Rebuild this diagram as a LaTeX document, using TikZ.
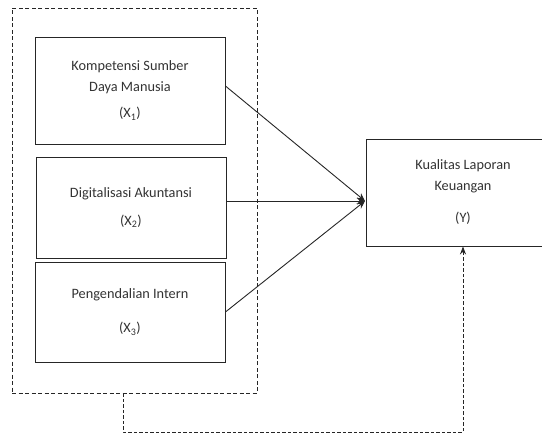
\documentclass[tikz,border=0pt]{standalone}
\usepackage{fontspec}
\setmainfont{Carlito}
\usetikzlibrary{arrows.meta}
\begin{document}
\begin{tikzpicture}[x=1pt,y=-1pt,
  box/.style={draw=black!85, line width=0.9pt, align=center, inner sep=0pt,
    font=\fontsize{14.3}{21}\selectfont, text=black!80},
  frame/.style={draw=black!85, line width=0.9pt, dash pattern=on 4pt off 2.5pt, inner sep=0pt},
  link/.style={draw=black!85, line width=0.9pt, -{Stealth[length=8pt,width=7pt]}},
  dlink/.style={draw=black!85, line width=0.9pt, dash pattern=on 3.5pt off 2pt, -{Stealth[length=8pt,width=6pt]}}]
\useasboundingbox (0,0) rectangle (542,434);
\node[frame, minimum width=245pt, minimum height=385pt] (outer) at (134.5,200.5) {};
\node[box, minimum width=190pt, minimum height=107pt] (x1) at (130,90.5)
  {Kompetensi Sumber\\Daya Manusia\\[5pt](X\textsubscript{1})};
\node[box, minimum width=190pt, minimum height=101pt] (x2) at (131,207.5)
  {Digitalisasi Akuntansi\\[7pt](X\textsubscript{2})};
\node[box, minimum width=190pt, minimum height=100pt] (x3) at (130,312)
  {Pengendalian Intern\\[13pt](X\textsubscript{3})};
\node[box, minimum width=194pt, minimum height=107pt] (y) at (463,192.5)
  {Kualitas Laporan\\Keuangan\\[11pt](Y)};
\coordinate (t) at (365,201);
\coordinate (d1) at (123,432);
\draw[link] ([yshift=4.5pt]x1.east) -- (t);
\draw[link] (x2.east |- t) -- (t);
\draw[link] (x3.east) -- (t);
\draw[dlink] (outer.south -| d1) -- (d1) -| (y.south);
\end{tikzpicture}
\end{document}
